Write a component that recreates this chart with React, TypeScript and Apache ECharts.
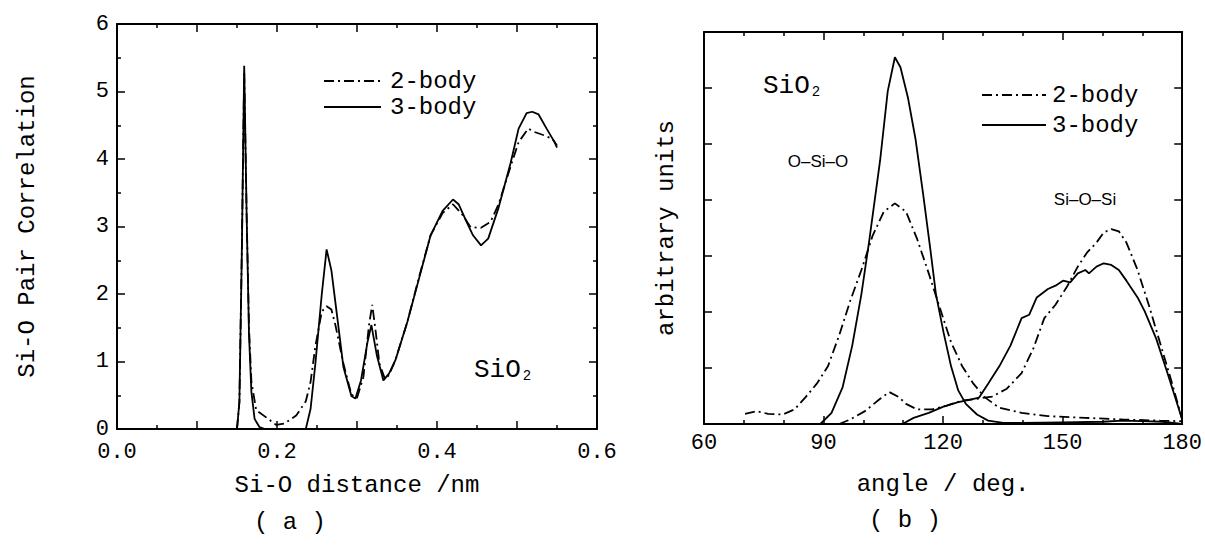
import React, { useEffect, useRef } from 'react';
import * as echarts from 'echarts';

// ---------- Panel (a): Si-O pair correlation ----------
const distA2 = [0.150, 0.153, 0.156, 0.159, 0.162, 0.165, 0.168, 0.174, 0.189, 0.199, 0.209, 0.224, 0.236, 0.242, 0.248, 0.256, 0.262, 0.268, 0.273, 0.283, 0.293, 0.300, 0.308, 0.315, 0.319, 0.323, 0.328, 0.335, 0.340, 0.348, 0.363, 0.378, 0.392, 0.407, 0.420, 0.432, 0.442, 0.455, 0.467, 0.477, 0.492, 0.502, 0.514, 0.522, 0.534, 0.544, 0.550];
const gA2 = [0, 0.4, 2.6, 5.3, 3.2, 1.5, 0.7, 0.28, 0.15, 0.06, 0.08, 0.2, 0.41, 0.7, 1.23, 1.74, 1.82, 1.77, 1.54, 0.97, 0.51, 0.46, 0.77, 1.54, 1.84, 1.48, 0.97, 0.74, 0.8, 1.02, 1.59, 2.27, 2.87, 3.2, 3.33, 3.17, 2.99, 2.98, 3.07, 3.33, 3.89, 4.25, 4.45, 4.4, 4.35, 4.3, 4.2];

const distA3 = [0.150, 0.153, 0.156, 0.159, 0.162, 0.165, 0.168, 0.172, 0.178, 0.185, 0.236, 0.242, 0.248, 0.256, 0.262, 0.268, 0.276, 0.283, 0.293, 0.298, 0.305, 0.313, 0.318, 0.325, 0.333, 0.340, 0.348, 0.363, 0.378, 0.392, 0.407, 0.420, 0.427, 0.437, 0.445, 0.455, 0.464, 0.477, 0.492, 0.502, 0.512, 0.519, 0.527, 0.537, 0.547, 0.550];
const gA3 = [0, 0.4, 2.6, 5.38, 3.2, 1.4, 0.55, 0.15, 0.03, 0, 0, 0.3, 0.97, 2.0, 2.66, 2.35, 1.59, 0.92, 0.49, 0.45, 0.72, 1.28, 1.54, 1.08, 0.72, 0.82, 1.02, 1.59, 2.25, 2.87, 3.23, 3.4, 3.33, 3.07, 2.87, 2.72, 2.82, 3.28, 3.94, 4.45, 4.68, 4.7, 4.66, 4.45, 4.25, 4.17];

const ticksA_x = [0, 0.6];
const ticksA_y = [0, 6];

// ---------- Panel (b): bond-angle distributions ----------
const angOSiO2 = [70.3, 73.3, 76.1, 79.8, 82.7, 85.5, 88.3, 91.1, 93.9, 96.7, 99.5, 102.3, 105.1, 107.9, 110.7, 113.5, 116.4, 119.2, 122.0, 124.8, 127.6, 130.4, 134.1, 139.7, 146.3, 155.7, 165.0, 174.4, 180];
const valOSiO2 = [0.18, 0.23, 0.18, 0.17, 0.26, 0.48, 0.72, 1.03, 1.58, 2.2, 2.75, 3.36, 3.79, 3.94, 3.79, 3.3, 2.69, 2.07, 1.46, 1.03, 0.72, 0.48, 0.29, 0.2, 0.14, 0.11, 0.08, 0.06, 0.05];

const angOSiO3 = [89.2, 92.0, 94.8, 97.2, 99.5, 101.4, 104.2, 106.1, 107.9, 109.3, 111.2, 113.1, 115.0, 116.8, 118.2, 120.1, 122.0, 123.8, 125.7, 128.5, 131.3, 135.1, 140, 150, 160, 165, 170, 175, 180];
const valOSiO3 = [0, 0.2, 0.66, 1.4, 2.32, 3.24, 4.71, 5.94, 6.55, 6.37, 5.82, 5.08, 4.1, 3.12, 2.32, 1.64, 1.03, 0.6, 0.36, 0.17, 0.06, 0.02, 0.02, 0.03, 0.04, 0.06, 0.05, 0.04, 0.0];

const angSiOSi2 = [93.9, 96.7, 100.4, 104.2, 106.5, 108.9, 110.7, 113.5, 117.3, 121.0, 124.8, 128.5, 132.3, 136.0, 139.7, 142.6, 145.4, 148.2, 151.0, 153.8, 156.1, 158.5, 160.3, 162.2, 164.1, 166.0, 168.8, 171.6, 174.4, 177.2, 180];
const valSiOSi2 = [0, 0.08, 0.23, 0.45, 0.57, 0.48, 0.36, 0.26, 0.26, 0.33, 0.42, 0.45, 0.49, 0.63, 0.91, 1.34, 1.89, 2.13, 2.44, 2.81, 3.06, 3.24, 3.42, 3.48, 3.44, 3.24, 2.75, 2.13, 1.46, 0.79, 0.08];

const angSiOSi3 = [109.8, 112.6, 116.4, 120.1, 123.8, 126.6, 129.0, 131.3, 134.1, 136.9, 139.7, 141.6, 143.5, 146.3, 148.2, 150.1, 151.9, 153.8, 155.7, 156.6, 158.5, 160.3, 162.2, 164.1, 166.0, 168.8, 170.6, 173.5, 176.3, 180];
const valSiOSi3 = [0, 0.11, 0.2, 0.31, 0.39, 0.43, 0.47, 0.72, 1.03, 1.4, 1.89, 1.95, 2.26, 2.41, 2.47, 2.56, 2.53, 2.69, 2.75, 2.69, 2.81, 2.87, 2.84, 2.75, 2.56, 2.26, 2.01, 1.52, 0.91, 0.08];

const ticksB_x = [60, 180];
const ticksB_y = [0, 7];

const zip = (xs: number[], ys: number[]) => xs.map((x, i) => [x, ys[i]]);

const MONO = 'Liberation Mono';
const SANS = 'Liberation Sans';
const BLACK = '#000';
const DASHDOT = [10, 4, 2, 4];

export default function App() {
  const ref = useRef<HTMLDivElement>(null);

  useEffect(() => {
    document.body.style.margin = '0';
    const chart = echarts.init(ref.current!, null, { renderer: 'svg' });

    const axisLine = { show: true, onZero: false, lineStyle: { color: BLACK, width: 2 } };
    const axisTick = { show: true, inside: true, length: 8, lineStyle: { color: BLACK, width: 1.5 } };
    const minor = (n: number) => ({ show: true, splitNumber: n, length: 4, lineStyle: { color: BLACK, width: 1.5 } });
    const noSplit = { show: false };
    const tickLabel = { color: BLACK, fontFamily: MONO, fontSize: 22, margin: 8 };
    const nameStyle = { color: BLACK, fontFamily: MONO, fontSize: 24 };

    const line = (xa: number, ya: number, data: number[][], dashed: boolean, name: string) => ({
      type: 'line',
      name,
      xAxisIndex: xa,
      yAxisIndex: ya,
      data,
      showSymbol: false,
      symbol: 'none',
      smooth: false,
      lineStyle: { color: BLACK, width: 1.8, type: dashed ? DASHDOT : 'solid' },
      z: 3,
    });

    const option: any = {
      animation: false,
      backgroundColor: '#fff',
      grid: [
        { left: 117, top: 24, width: 480, height: 405 },
        { left: 704, top: 32, width: 480, height: 392 },
      ],
      xAxis: [
        {
          gridIndex: 0, type: 'value', min: ticksA_x[0], max: ticksA_x[1], interval: 0.1, position: 'bottom',
          axisLine, axisTick, minorTick: minor(2), splitLine: noSplit, minorSplitLine: noSplit,
          axisLabel: { ...tickLabel, margin: 12, formatter: (v: number) => (Math.round(v * 10) % 2 === 0 ? v.toFixed(1) : '') },
          name: 'Si-O distance /nm', nameLocation: 'middle', nameGap: 44, nameTextStyle: nameStyle,
        },
        {
          gridIndex: 0, type: 'value', min: ticksA_x[0], max: ticksA_x[1], interval: 0.1, position: 'top',
          axisLine, axisTick, minorTick: minor(2), splitLine: noSplit, axisLabel: { show: false },
        },
        {
          gridIndex: 1, type: 'value', min: ticksB_x[0], max: ticksB_x[1], interval: 30, position: 'bottom',
          axisLine, axisTick, minorTick: minor(3), splitLine: noSplit, minorSplitLine: noSplit,
          axisLabel: { ...tickLabel },
          name: 'angle / deg.', nameLocation: 'middle', nameGap: 48, nameTextStyle: nameStyle,
        },
        {
          gridIndex: 1, type: 'value', min: ticksB_x[0], max: ticksB_x[1], interval: 30, position: 'top',
          axisLine, axisTick, minorTick: minor(3), splitLine: noSplit, axisLabel: { show: false },
        },
      ],
      yAxis: [
        {
          gridIndex: 0, type: 'value', min: ticksA_y[0], max: ticksA_y[1], interval: 1, position: 'left',
          axisLine, axisTick, minorTick: minor(2), splitLine: noSplit, minorSplitLine: noSplit,
          axisLabel: { ...tickLabel, margin: 8 },
          name: 'Si-O Pair Correlation', nameLocation: 'middle', nameGap: 78, nameTextStyle: nameStyle,
        },
        {
          gridIndex: 0, type: 'value', min: ticksA_y[0], max: ticksA_y[1], interval: 1, position: 'right',
          axisLine, axisTick, minorTick: minor(2), splitLine: noSplit, axisLabel: { show: false },
        },
        {
          gridIndex: 1, type: 'value', min: ticksB_y[0], max: ticksB_y[1], interval: 1, position: 'left',
          axisLine, axisTick, minorTick: { show: false }, splitLine: noSplit, axisLabel: { show: false },
          name: 'arbitrary units', nameLocation: 'middle', nameGap: 26, nameTextStyle: nameStyle,
        },
        {
          gridIndex: 1, type: 'value', min: ticksB_y[0], max: ticksB_y[1], interval: 1, position: 'right',
          axisLine, axisTick, minorTick: { show: false }, splitLine: noSplit, axisLabel: { show: false },
        },
      ],
      series: [
        line(0, 0, zip(distA2, gA2), true, '2-body (a)'),
        line(0, 0, zip(distA3, gA3), false, '3-body (a)'),
        line(2, 2, zip(angOSiO2, valOSiO2), true, '2-body O-Si-O'),
        line(2, 2, zip(angSiOSi2, valSiOSi2), true, '2-body Si-O-Si'),
        line(2, 2, zip(angOSiO3, valOSiO3), false, '3-body O-Si-O'),
        line(2, 2, zip(angSiOSi3, valSiOSi3), false, '3-body Si-O-Si'),
      ],
      graphic: [
        // legend (a)
        { type: 'line', shape: { x1: 324, y1: 81, x2: 381, y2: 81 }, style: { stroke: BLACK, lineWidth: 1.8, lineDash: DASHDOT } },
        { type: 'line', shape: { x1: 324, y1: 107, x2: 381, y2: 107 }, style: { stroke: BLACK, lineWidth: 1.8 } },
        { type: 'text', x: 390, y: 81, style: { text: '2-body', fill: BLACK, font: `24px "${MONO}"`, verticalAlign: 'middle' } },
        { type: 'text', x: 390, y: 107, style: { text: '3-body', fill: BLACK, font: `24px "${MONO}"`, verticalAlign: 'middle' } },
        // legend (b)
        { type: 'line', shape: { x1: 982, y1: 95, x2: 1046, y2: 95 }, style: { stroke: BLACK, lineWidth: 1.8, lineDash: DASHDOT } },
        { type: 'line', shape: { x1: 982, y1: 125, x2: 1046, y2: 125 }, style: { stroke: BLACK, lineWidth: 1.8 } },
        { type: 'text', x: 1052, y: 95, style: { text: '2-body', fill: BLACK, font: `24px "${MONO}"`, verticalAlign: 'middle' } },
        { type: 'text', x: 1052, y: 125, style: { text: '3-body', fill: BLACK, font: `24px "${MONO}"`, verticalAlign: 'middle' } },
        // SiO2 labels
        {
          type: 'text', x: 474, y: 370,
          style: {
            text: '{a|SiO}{b|2}', verticalAlign: 'middle',
            rich: {
              a: { fontFamily: MONO, fontSize: 26, fill: BLACK, color: BLACK },
              b: { fontFamily: MONO, fontSize: 14, fill: BLACK, color: BLACK, padding: [12, 0, 0, 2] },
            },
          },
        },
        {
          type: 'text', x: 763, y: 86,
          style: {
            text: '{a|SiO}{b|2}', verticalAlign: 'middle',
            rich: {
              a: { fontFamily: MONO, fontSize: 26, fill: BLACK, color: BLACK },
              b: { fontFamily: MONO, fontSize: 14, fill: BLACK, color: BLACK, padding: [12, 0, 0, 2] },
            },
          },
        },
        { type: 'text', x: 818, y: 161, style: { text: 'O–Si–O', fill: BLACK, font: `17px "${SANS}"`, align: 'center', verticalAlign: 'middle' } },
        { type: 'text', x: 1085, y: 199, style: { text: 'Si–O–Si', fill: BLACK, font: `17px "${SANS}"`, align: 'center', verticalAlign: 'middle' } },
        // panel captions
        { type: 'text', x: 290, y: 522, style: { text: '( a )', fill: BLACK, font: `24px "${MONO}"`, align: 'center', verticalAlign: 'middle' } },
        { type: 'text', x: 905, y: 520, style: { text: '( b )', fill: BLACK, font: `24px "${MONO}"`, align: 'center', verticalAlign: 'middle' } },
      ],
    };

    chart.setOption(option);
    return () => chart.dispose();
  }, []);

  return <div ref={ref} style={{ width: 1205, height: 546 }} />;
}
